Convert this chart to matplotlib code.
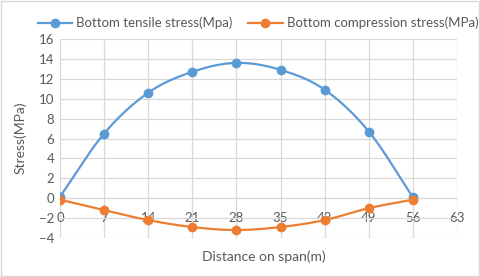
import numpy as np
import matplotlib.pyplot as plt
from matplotlib.patches import Rectangle

plt.rcParams['font.family'] = ['Lato', 'DejaVu Sans']

distance = [0, 7, 14, 21, 28, 35, 42, 49, 56]
tensile = [0.15, 6.5, 10.6, 12.7, 13.6, 12.9, 10.9, 6.7, 0.1]
compression = [-0.15, -1.2, -2.2, -2.9, -3.2, -2.9, -2.2, -1.0, -0.15]
x_ticks = [0, 7, 14, 21, 28, 35, 42, 49, 56, 63]
y_ticks = [-4, -2, 0, 2, 4, 6, 8, 10, 12, 14, 16]

BLUE = '#5B9BD5'
ORANGE = '#ED7D31'
TXT = '#595959'
GRID = '#D9D9D9'


def smooth(x, y, n=20):
    # Catmull-Rom through the points, like Excel's smoothed line
    x = np.asarray(x, float)
    y = np.asarray(y, float)
    px = np.concatenate([[2 * x[0] - x[1]], x, [2 * x[-1] - x[-2]]])
    py = np.concatenate([[2 * y[0] - y[1]], y, [2 * y[-1] - y[-2]]])
    xs, ys = [], []
    t = np.linspace(0, 1, n, endpoint=False)
    for i in range(1, len(px) - 2):
        for arr, out in ((px, xs), (py, ys)):
            p0, p1, p2, p3 = arr[i - 1], arr[i], arr[i + 1], arr[i + 2]
            out.extend(0.5 * ((2 * p1) + (-p0 + p2) * t
                              + (2 * p0 - 5 * p1 + 4 * p2 - p3) * t ** 2
                              + (-p0 + 3 * p1 - 3 * p2 + p3) * t ** 3))
    xs.append(x[-1])
    ys.append(y[-1])
    return xs, ys


W, H = 480, 277
fig = plt.figure(figsize=(W / 100, H / 100), dpi=100)
ax = fig.add_axes([60 / W, 1 - 238 / H, (457 - 60) / W, (238 - 39) / H])

for xs, ys, c, lab in ((distance, tensile, BLUE, 'Bottom tensile stress(Mpa)'),
                       (distance, compression, ORANGE, 'Bottom compression stress(MPa)')):
    sx, sy = smooth(xs, ys)
    ax.plot(sx, sy, color=c, lw=1.6, zorder=3)
    ax.plot(xs, ys, 'o', color=c, ms=6, zorder=4)
    ax.plot([], [], '-o', color=c, lw=1.6, ms=6, label=lab)

ax.set_xlim(0, 63)
ax.set_ylim(-4, 16)
ax.set_xticks(x_ticks)
ax.set_yticks(y_ticks)
ax.grid(True, color=GRID, lw=0.9)
ax.set_axisbelow(True)
for s in ax.spines.values():
    s.set_visible(False)
ax.spines['bottom'].set_visible(True)
ax.spines['bottom'].set_position(('data', 0))
ax.spines['bottom'].set_color(GRID)
ax.tick_params(length=0, labelsize=9.5, colors=TXT)
ax.tick_params(axis='x', pad=10)
ax.tick_params(axis='y', pad=4)

fig.text(20 / W, 1 - 138 / H, 'Stress(MPa)', rotation=90, ha='center',
         va='center', fontsize=10, color=TXT)
fig.text(264 / W, 1 - 257 / H, 'Distance on span(m)', ha='center',
         va='center', fontsize=10, color=TXT)

fig.legend(loc='center', bbox_to_anchor=(258 / W, 1 - 23 / H), ncol=2,
           frameon=False, fontsize=9.5, labelcolor=TXT, handlelength=2.6,
           columnspacing=1.2, handletextpad=0.3)

fig.patches.append(Rectangle((1 / W, 1 / H), 1 - 2 / W, 1 - 2 / H,
                             transform=fig.transFigure, fill=False,
                             edgecolor='#D9D9D9', lw=1))

fig.savefig('out.png', dpi=100)
